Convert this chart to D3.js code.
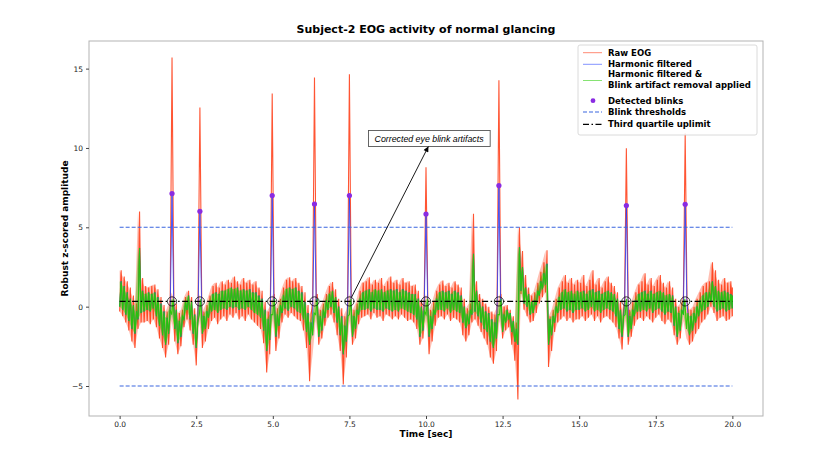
<!DOCTYPE html>
<html>
<head>
<meta charset="utf-8">
<script src="https://cdn.jsdelivr.net/npm/d3@7"></script>
<style>
  body { margin: 0; background: #fff; }
  svg { display: block; font-family: "DejaVu Sans", sans-serif; }
</style>
</head>
<body>
<svg id="chart" width="830" height="467"></svg>
<script>
// one min/max pair of the signal every 0.1 s, from 0.0 to 20.0 sec
var binStep = 0.1;

// raw EOG, upper and lower edge of the noise band per bin
var rawHi = [
  2.3, 1.9, 1.6, 1.2, 0.7, 0.2, 6.0, 1.8, 1.3, 1.2,
  1.3, 1.4, 1.1, 0.6, 0.1, -0.3, 0.2, 0.9, 0.2, -0.4,
  -0.2, 0.6, 1.0, 0.6, -0.1, -0.6, 0.8, -0.3, 0.1, 0.7,
  1.3, 1.5, 1.2, 1.6, 1.4, 1.7, 1.5, 1.9, 1.6, 1.4,
  1.8, 1.5, 1.7, 1.4, 1.6, 1.2, 1.0, 0.3, -0.3, 0.0,
  0.8, -0.1, 0.5, 1.2, 1.7, 1.85, 1.6, 1.8, 1.5, 1.3,
  0.9, 0.1, -0.5, 0.0, 0.8, -0.2, 0.2, 0.8, 1.3, 1.55,
  1.1, 0.5, -0.1, -0.6, -0.2, 0.8, -0.2, 0.2, 1.0, 1.5,
  1.6, 1.85, 1.4, 1.7, 1.5, 1.8, 1.3, 1.6, 1.9, 1.5,
  1.7, 1.4, 1.8, 1.5, 1.6, 1.3, 1.4, 1.0, 0.4, 0.1,
  0.8, -0.2, 0.3, 1.0, 1.4, 1.65, 1.3, 1.5, 1.2, 1.6,
  1.4, 1.2, 0.5, -0.1, 0.2, 5.86, 1.6, 0.8, 0.5, 0.2,
  0.0, -0.3, -0.5, -0.1, 0.8, 0.0, 0.1, -0.2, -0.6, -1.0,
  5.0, 3.5, 2.0, 1.2, 0.7, 0.9, 1.5, 2.2, 2.8, 3.55,
  -0.6, -0.2, 0.5, 1.2, 1.6, 2.0, 1.5, 1.8, 1.4, 1.7,
  1.5, 2.0, 1.3, 1.7, 2.3, 1.4, 1.8, 1.2, 1.6, 1.9,
  1.5, 1.3, 0.9, 0.3, -0.2, 0.8, -0.2, 0.3, 0.9, 1.4,
  1.6, 2.1, 1.4, 1.8, 1.3, 1.7, 2.0, 1.5, 1.2, 1.6,
  1.2, 0.5, 0.0, 0.2, 0.8, 0.0, -0.2, 0.0, 0.5, 0.9,
  1.3, 1.5, 1.6, 2.8, 2.3, 1.7, 1.4, 1.8, 1.5, 1.6,
  1.2
];
var rawLo = [
  -0.3, -0.6, -1.0, -1.5, -2.2, -2.6, -1.4, -1.0, -1.0, -0.9,
  -1.1, -0.8, -1.3, -2.0, -2.6, -3.2, -2.4, -0.9, -2.2, -3.0,
  -2.5, -1.3, -0.8, -1.5, -2.4, -3.7, -0.9, -2.6, -2.2, -1.4,
  -0.9, -0.7, -1.1, -0.8, -0.6, -0.9, -0.5, -0.7, -0.4, -0.8,
  -0.6, -0.9, -0.5, -0.8, -1.0, -1.2, -1.4, -2.3, -4.15, -3.0,
  -0.9, -2.8, -2.0, -1.0, -0.5, -0.7, -0.4, -0.6, -0.8, -0.9,
  -1.5, -2.6, -4.7, -3.0, -0.9, -2.4, -2.0, -1.2, -0.7, -0.5,
  -1.0, -1.8, -2.8, -4.9, -3.2, -0.9, -2.4, -2.0, -1.1, -0.7,
  -0.6, -0.5, -0.8, -0.4, -0.7, -0.6, -0.9, -0.5, -0.6, -0.8,
  -0.6, -0.8, -0.5, -0.7, -0.9, -0.8, -1.0, -1.4, -2.4, -2.0,
  -0.9, -3.0, -2.2, -1.2, -0.7, -0.6, -0.8, -0.5, -0.9, -0.7,
  -0.8, -1.0, -1.8, -2.2, -1.8, -1.0, -0.8, -1.2, -1.6, -2.0,
  -2.4, -3.2, -3.6, -2.8, -0.9, -2.0, -1.5, -1.3, -2.4, -3.4,
  -5.85, 0.8, -0.2, -0.6, -1.0, -0.9, -0.4, 0.2, 0.6, 0.9,
  -3.8, -2.8, -1.6, -1.0, -0.8, -0.6, -0.9, -0.7, -1.0, -0.8,
  -0.8, -0.6, -0.9, -0.7, -0.5, -0.9, -0.6, -1.0, -0.7, -0.6,
  -0.8, -1.0, -1.3, -2.0, -2.7, -0.9, -2.4, -1.9, -1.2, -0.8,
  -0.7, -0.9, -0.6, -0.8, -1.0, -0.7, -0.5, -0.9, -1.1, -0.8,
  -1.0, -1.8, -2.4, -2.0, -0.9, -2.0, -2.4, -2.2, -1.7, -1.4,
  -1.0, -0.8, -0.5, 0.0, -0.4, -0.9, -0.7, -0.6, -0.9, -0.8,
  -0.6
];

// harmonic filtered & blink artifact removal applied (green)
var cleanHi = [
  1.6, 1.3, 0.9, 0.5, 0.1, -0.3, 3.7, 1.0, 0.8, 0.9,
  0.8, 0.9, 0.6, 0.2, -0.3, -0.7, -0.2, 0.5, -0.2, -0.9,
  -0.6, 0.3, 0.7, 0.3, -0.5, -1.0, 0.5, -0.6, -0.3, 0.3,
  0.8, 0.9, 0.8, 1.0, 1.0, 1.1, 1.2, 1.1, 1.2, 1.0,
  1.1, 1.0, 1.1, 0.9, 0.9, 0.7, 0.5, -0.2, -0.8, -0.5,
  0.5, -0.5, 0.1, 0.7, 1.1, 1.2, 1.1, 1.2, 1.0, 0.9,
  0.3, -0.4, -1.0, -0.4, 0.5, -0.6, -0.2, 0.4, 0.8, 1.0,
  0.6, 0.0, -0.6, -1.2, -0.6, 0.5, -0.6, -0.2, 0.5, 0.9,
  1.0, 1.1, 0.9, 1.1, 1.0, 1.1, 0.9, 1.0, 1.1, 1.0,
  1.1, 0.9, 1.1, 1.0, 0.9, 0.8, 0.8, 0.5, 0.0, -0.3,
  0.5, -0.6, -0.2, 0.5, 0.9, 1.0, 0.9, 1.0, 0.8, 1.0,
  0.9, 0.7, 0.0, -0.5, -0.2, 3.33, 1.0, 0.3, 0.0, -0.3,
  -0.4, -0.8, -1.0, -0.5, 0.5, -0.5, -0.2, -0.4, -0.9, -1.4,
  3.75, 2.5, 1.2, 0.8, 0.3, 0.4, 1.0, 1.6, 2.1, 2.7,
  -0.8, -0.6, 0.0, 0.6, 0.9, 1.1, 0.9, 1.0, 0.8, 1.0,
  0.9, 1.0, 0.8, 1.0, 1.1, 0.9, 1.0, 0.8, 0.9, 1.0,
  0.9, 0.8, 0.5, -0.2, -0.6, 0.5, -0.6, -0.2, 0.4, 0.8,
  0.9, 1.0, 0.8, 1.0, 0.8, 0.9, 1.0, 0.9, 0.7, 0.8,
  0.7, 0.0, -0.4, -0.2, 0.5, -0.4, -0.6, -0.4, 0.0, 0.4,
  0.7, 0.9, 0.9, 1.6, 1.3, 1.0, 0.9, 1.0, 0.9, 0.8,
  0.7
];
var cleanLo = [
  0.0, -0.2, -0.5, -0.9, -1.4, -1.7, -0.8, -0.4, -0.3, -0.2,
  -0.3, -0.1, -0.6, -1.2, -1.8, -2.4, -1.7, -0.5, -1.4, -2.3,
  -1.9, -0.8, -0.2, -0.8, -1.7, -2.6, -0.5, -1.7, -1.4, -0.7,
  -0.3, -0.2, -0.4, -0.2, -0.1, -0.2, 0.0, -0.1, 0.0, -0.2,
  -0.1, -0.2, 0.0, -0.2, -0.4, -0.5, -0.7, -1.5, -2.8, -2.1,
  -0.5, -1.9, -1.2, -0.4, -0.1, -0.25, 0.0, -0.1, -0.3, -0.4,
  -0.8, -1.6, -2.4, -1.8, -0.5, -1.9, -1.5, -0.7, -0.2, 0.0,
  -0.4, -1.0, -1.8, -3.0, -2.2, -0.5, -1.9, -1.4, -0.5, -0.2,
  -0.2, -0.1, -0.3, -0.1, -0.2, -0.2, -0.3, -0.1, -0.2, -0.3,
  -0.2, -0.3, -0.1, -0.2, -0.3, -0.4, -0.5, -0.8, -1.9, -1.5,
  -0.5, -1.9, -1.4, -0.5, -0.2, -0.2, -0.3, -0.1, -0.4, -0.2,
  -0.3, -0.4, -1.0, -1.35, -1.1, -0.5, -0.3, -0.6, -1.0, -1.4,
  -1.6, -2.2, -2.6, -2.0, -0.5, -1.6, -1.0, -0.8, -1.6, -2.2,
  -2.4, 1.0, 0.2, 0.0, -0.5, -0.4, 0.1, 0.7, 1.1, 1.4,
  -2.4, -1.8, -1.0, -0.4, -0.2, -0.1, -0.3, -0.2, -0.4, -0.2,
  -0.2, -0.1, -0.3, -0.2, 0.0, -0.3, -0.2, -0.4, -0.2, -0.1,
  -0.2, -0.3, -0.6, -1.4, -1.9, -0.5, -1.9, -1.4, -0.6, -0.3,
  -0.3, -0.2, -0.3, -0.1, -0.4, -0.2, -0.1, -0.3, -0.5, -0.3,
  -0.4, -1.2, -1.9, -1.5, -0.5, -1.4, -1.8, -1.5, -1.0, -0.6,
  -0.3, -0.2, 0.0, 0.3, 0.0, -0.3, -0.2, -0.1, -0.3, -0.2,
  -0.1
];

// detected blinks
var blinkTimes    = [1.71, 2.62, 4.98, 6.36, 7.50, 10.00, 12.38, 16.54, 18.46];
var rawPeaks      = [15.7, 12.55, 13.43, 14.44, 14.64, 8.78, 14.26, 9.98, 10.93];
var detectedPeaks = [7.13, 6.01, 7.00, 6.47, 7.00, 5.84, 7.63, 6.37, 6.45];

var thresholds = [5, -5];
var q3Level = 0.33;
var signalSpan = [0, 20];

var xTicks = [0, 2.5, 5, 7.5, 10, 12.5, 15, 17.5, 20];
var yTicks = [-5, 0, 5, 10, 15];

var noteText = "Corrected eye blink artifacts";
var notePos = [10.1, 10.6];
var noteBlink = 4; // index of the blink the arrow points from

var svg = d3.select("#chart");
var margin = {top: 41, right: 67, bottom: 51, left: 89},
    width = +svg.attr("width") - margin.left - margin.right,
    height = +svg.attr("height") - margin.top - margin.bottom;

var x = d3.scaleLinear().domain([-1, 21]).range([margin.left, margin.left + width]);
var y = d3.scaleLinear().domain([-6.89, 16.74]).range([margin.top + height, margin.top]);

var rawColor = "#ff2a00", filtColor = "#1f3cff", cleanColor = "#22cc00";

// turn min/max bins into a dense zig-zag like a decimated signal
function zigzag(lo, hi) {
  var pts = [];
  lo.forEach(function(v, i) {
    var t = i * binStep;
    pts.push([t, v]);
    pts.push([Math.min(t + binStep / 2, signalSpan[1]), hi[i]]);
  });
  return pts;
}

// put a narrow spike on top of a trace at every blink time
function withSpikes(pts, peaks, half) {
  var out = pts.filter(function(p) {
    return !blinkTimes.some(function(tb) { return Math.abs(p[0] - tb) < half; });
  });
  blinkTimes.forEach(function(tb, i) {
    out.push([tb - half, q3Level], [tb, peaks[i]], [tb + half, q3Level]);
  });
  return out.sort(function(a, b) { return a[0] - b[0]; });
}

var line = d3.line()
    .x(function(d) { return x(d[0]); })
    .y(function(d) { return y(d[1]); });

// core of the noise band, between the two edges of each bin
var band = d3.area()
    .x(function(d, i) { return x(i * binStep); })
    .y0(function(d) { return y(d[0]); })
    .y1(function(d) { return y(d[1]); });

svg.append("clipPath").attr("id", "plotclip")
  .append("rect")
    .attr("x", margin.left).attr("y", margin.top)
    .attr("width", width).attr("height", height);

var plot = svg.append("g").attr("clip-path", "url(#plotclip)");

var cleanPts = zigzag(cleanLo, cleanHi);

plot.append("path")
    .attr("d", band(d3.zip(rawLo, rawHi)))
    .attr("fill", rawColor)
    .attr("fill-opacity", 0.3);

plot.append("path")
    .attr("d", line(withSpikes(zigzag(rawLo, rawHi), rawPeaks, 0.06)))
    .attr("fill", "none")
    .attr("stroke", rawColor)
    .attr("stroke-width", 1.1)
    .attr("stroke-opacity", 0.8);

plot.append("path")
    .attr("d", line(withSpikes(cleanPts, detectedPeaks, 0.055)))
    .attr("fill", "none")
    .attr("stroke", filtColor)
    .attr("stroke-width", 1)
    .attr("stroke-opacity", 0.8);

plot.append("path")
    .attr("d", band(d3.zip(cleanLo, cleanHi)))
    .attr("fill", cleanColor)
    .attr("fill-opacity", 0.4);

plot.append("path")
    .attr("d", line(cleanPts))
    .attr("fill", "none")
    .attr("stroke", cleanColor)
    .attr("stroke-width", 1.1)
    .attr("stroke-opacity", 0.9);

// blink thresholds
plot.selectAll(".thr")
  .data(thresholds)
  .enter()
  .append("line")
    .attr("x1", x(signalSpan[0])).attr("x2", x(signalSpan[1]))
    .attr("y1", function(d) { return y(d); })
    .attr("y2", function(d) { return y(d); })
    .attr("stroke", "#3a66e0")
    .attr("stroke-width", 1.1)
    .attr("stroke-dasharray", "4,2");

// third quartile uplimit
plot.append("line")
    .attr("x1", x(signalSpan[0])).attr("x2", x(signalSpan[1]))
    .attr("y1", y(q3Level)).attr("y2", y(q3Level))
    .attr("stroke", "#000")
    .attr("stroke-width", 1.2)
    .attr("stroke-dasharray", "6,2.5,1.5,2.5");

plot.selectAll(".ring")
  .data(blinkTimes)
  .enter()
  .append("circle")
    .attr("cx", function(d) { return x(d); })
    .attr("cy", y(q3Level))
    .attr("r", 4.6)
    .attr("fill", "none")
    .attr("stroke", "#111")
    .attr("stroke-width", 0.8);

plot.selectAll(".dot")
  .data(blinkTimes)
  .enter()
  .append("circle")
    .attr("cx", function(d) { return x(d); })
    .attr("cy", function(d, i) { return y(detectedPeaks[i]); })
    .attr("r", 2.6)
    .attr("fill", "#8a2be2");

// frame
svg.append("rect")
    .attr("x", margin.left).attr("y", margin.top)
    .attr("width", width).attr("height", height)
    .attr("fill", "none")
    .attr("stroke", "#b3b3b3")
    .attr("stroke-width", 1);

// axes
var xAxis = svg.append("g")
    .attr("transform", "translate(0," + (margin.top + height) + ")")
    .call(d3.axisBottom(x).tickValues(xTicks).tickFormat(d3.format(".1f")).tickSize(3).tickPadding(3));
xAxis.select(".domain").remove();

var yAxis = svg.append("g")
    .attr("transform", "translate(" + margin.left + ",0)")
    .call(d3.axisLeft(y).tickValues(yTicks).tickFormat(d3.format("d")).tickSize(3).tickPadding(3));
yAxis.select(".domain").remove();

svg.selectAll(".tick text")
    .style("font-family", "DejaVu Sans")
    .style("font-size", "7.5px")
    .attr("fill", "#222");
svg.selectAll(".tick line").attr("stroke", "#444");

svg.append("text")
    .attr("x", margin.left + width / 2)
    .attr("y", 437)
    .attr("text-anchor", "middle")
    .style("font-size", "9px")
    .style("font-weight", "bold")
    .text("Time [sec]");

svg.append("text")
    .attr("transform", "translate(68," + (margin.top + height / 2) + ") rotate(-90)")
    .attr("text-anchor", "middle")
    .style("font-size", "9px")
    .style("font-weight", "bold")
    .text("Robust z-scored amplitude");

svg.append("text")
    .attr("x", margin.left + width / 2)
    .attr("y", 33)
    .attr("text-anchor", "middle")
    .style("font-size", "11px")
    .style("font-weight", "bold")
    .text("Subject-2 EOG activity of normal glancing");

// annotation box and arrow
var note = svg.append("g");
var noteLabel = note.append("text")
    .attr("x", x(notePos[0]))
    .attr("y", y(notePos[1]))
    .attr("dy", "0.35em")
    .attr("text-anchor", "middle")
    .style("font-family", "'Liberation Sans Narrow', 'Liberation Sans', sans-serif")
    .style("font-style", "italic")
    .style("font-size", "8.8px")
    .text(noteText);
var bb = noteLabel.node().getBBox();
note.insert("rect", "text")
    .attr("x", bb.x - 6).attr("y", bb.y - 3)
    .attr("width", bb.width + 12).attr("height", bb.height + 6)
    .attr("fill", "#fff")
    .attr("stroke", "#555")
    .attr("stroke-width", 0.9);

svg.append("defs").append("marker")
    .attr("id", "head")
    .attr("viewBox", "0 0 10 10")
    .attr("refX", 10).attr("refY", 5)
    .attr("markerWidth", 7).attr("markerHeight", 6)
    .attr("orient", "auto")
  .append("path")
    .attr("d", "M0,0L10,5L0,10z")
    .attr("fill", "#000");

var ax0 = x(blinkTimes[noteBlink]), ay0 = y(q3Level);
var ax1 = bb.x + bb.width / 2 - 1, ay1 = bb.y + bb.height + 3;
var len = Math.hypot(ax1 - ax0, ay1 - ay0);
svg.append("line")
    .attr("x1", ax0 + (ax1 - ax0) * 4.6 / len)
    .attr("y1", ay0 + (ay1 - ay0) * 4.6 / len)
    .attr("x2", ax1).attr("y2", ay1)
    .attr("stroke", "#000")
    .attr("stroke-width", 0.9)
    .attr("marker-end", "url(#head)");

// legend
var legendRows = [
  {label: ["Raw EOG"], kind: "line", color: rawColor, y: 52.7},
  {label: ["Harmonic filtered"], kind: "line", color: filtColor, y: 64.3},
  {label: ["Harmonic filtered &", "Blink artifact removal applied"], kind: "line", color: cleanColor, y: 80.5},
  {label: ["Detected blinks"], kind: "dot", color: "#8a2be2", y: 100.7},
  {label: ["Blink thresholds"], kind: "dash", color: "#3a66e0", y: 112},
  {label: ["Third quartile uplimit"], kind: "dashdot", color: "#000", y: 124.3}
];

var legend = svg.append("g");
legend.append("rect")
    .attr("x", 578).attr("y", 45)
    .attr("width", 179).attr("height", 90)
    .attr("rx", 2)
    .attr("fill", "#fff")
    .attr("fill-opacity", 0.85)
    .attr("stroke", "#d0d0d0")
    .attr("stroke-width", 0.8);

legendRows.forEach(function(r) {
  if (r.kind === "dot") {
    legend.append("circle").attr("cx", 593).attr("cy", r.y).attr("r", 2.4).attr("fill", r.color);
  } else {
    legend.append("line")
        .attr("x1", 583).attr("x2", 602)
        .attr("y1", r.y).attr("y2", r.y)
        .attr("stroke", r.color)
        .attr("stroke-width", r.kind === "line" ? 1 : 1.2)
        .attr("stroke-opacity", r.kind === "line" ? 0.55 : 1)
        .attr("stroke-dasharray", r.kind === "dash" ? "4,2" : r.kind === "dashdot" ? "6,2.5,1.5,2.5" : null);
  }
  var t = legend.append("text")
      .attr("x", 608)
      .attr("y", r.label.length > 1 ? r.y - 6.3 : r.y)
      .style("font-size", "8.5px")
      .style("font-weight", "bold");
  r.label.forEach(function(s, k) {
    t.append("tspan").attr("x", 608).attr("dy", k === 0 ? "0.35em" : "1.25em").text(s);
  });
});
</script>
</body>
</html>
